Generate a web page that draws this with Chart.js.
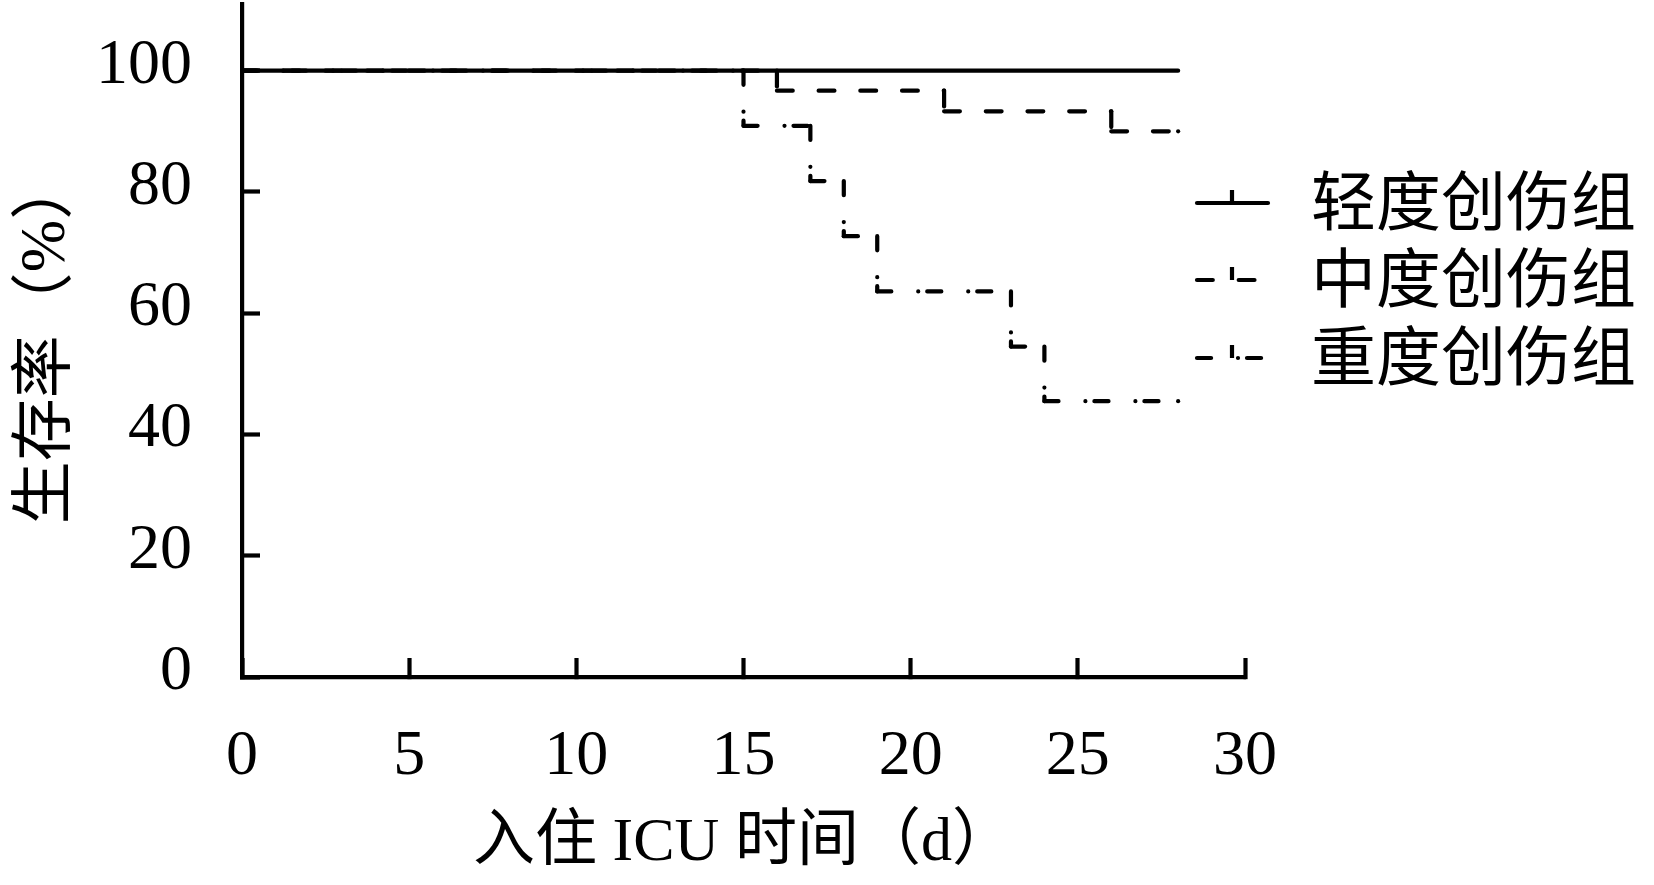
<!DOCTYPE html>
<html lang="zh-CN">
<head>
<meta charset="utf-8">
<title>生存率</title>
<script src="https://cdn.jsdelivr.net/npm/chart.js@4"></script>
<style>
  html, body { margin: 0; padding: 0; background: #fff; }
  #wrap { width: 1654px; height: 885px; }
</style>
</head>
<body>
<div id="wrap"><canvas id="kmChart" width="1654" height="885"></canvas></div>
<script>
const groupLabels = ['轻度创伤组', '中度创伤组', '重度创伤组'];
const endDay = 28;
// event days (d) and survival (%) right after each event
const mildDays = [];
const mildSurvival = [];
const moderateDays = [16, 21, 26];
const moderateSurvival = [96.7, 93.3, 90.0];
const severeDays = [15, 17, 18, 19, 23, 24];
const severeSurvival = [90.9, 81.8, 72.7, 63.6, 54.5, 45.5];
const xTicks = [0, 5, 10, 15, 20, 25, 30];
const yTicks = [0, 20, 40, 60, 80, 100];

const serif = "'Liberation Serif', 'Times New Roman', 'Noto Sans CJK SC', serif";
const lineW = 4.2;
const dashMid = [15.8, 25.9];
const dashSevere = [14.1, 26.9, 0, 9];

// vertices of the Kaplan-Meier step curve
function stepPoints(days, surv) {
  const pts = [{ x: 0, y: 100 }];
  let last = 100;
  days.forEach((d, i) => {
    pts.push({ x: d, y: last });
    pts.push({ x: d, y: surv[i] });
    last = surv[i];
  });
  pts.push({ x: endDay, y: last });
  return pts;
}

function makeSet(label, days, surv, dash) {
  const period = dash.reduce((a, b) => a + b, 0);
  const pts = stepPoints(days, surv);
  return {
    label: label,
    data: pts,
    borderColor: '#000',
    backgroundColor: '#000',
    borderWidth: lineW,
    borderDash: dash,
    borderCapStyle: 'round',
    pointRadius: ctx => ctx.dataIndex === pts.length - 1 && dash.length ? 2.1 : 0,
    pointBorderWidth: 0,
    fill: false,
    tension: 0,
    // restart the dash pattern on every segment (offset is a whole number of periods)
    segment: dash.length ? { borderDashOffset: ctx => ctx.p0DataIndex * period } : undefined
  };
}

const kmLegend = {
  id: 'kmLegend',
  afterDraw(chart) {
    const ctx = chart.ctx;
    const rows = [203, 280, 358];
    chart.data.datasets.forEach((ds, i) => {
      const y = rows[i];
      ctx.save();
      ctx.strokeStyle = '#000';
      ctx.lineWidth = lineW;
      ctx.lineCap = 'round';
      ctx.setLineDash(ds.borderDash);
      ctx.beginPath();
      ctx.moveTo(1197, y);
      ctx.lineTo(1268, y);
      ctx.stroke();
      ctx.setLineDash([]);
      ctx.lineCap = 'butt';
      ctx.beginPath();
      ctx.moveTo(1232, y - 13);
      ctx.lineTo(1232, y);
      ctx.stroke();
      ctx.fillStyle = '#000';
      ctx.font = "65px 'Noto Sans CJK SC', sans-serif";
      ctx.textBaseline = 'middle';
      ctx.textAlign = 'left';
      ctx.fillText(ds.label, 1311, y - 3);
      ctx.restore();
    });
  }
};

new Chart(document.getElementById('kmChart'), {
  type: 'line',
  data: {
    datasets: [
      makeSet(groupLabels[0], mildDays, mildSurvival, []),
      makeSet(groupLabels[1], moderateDays, moderateSurvival, dashMid),
      makeSet(groupLabels[2], severeDays, severeSurvival, dashSevere)
    ]
  },
  options: {
    responsive: false,
    animation: false,
    layout: { padding: { left: 0, right: 409, top: 4, bottom: 0 } },
    plugins: { legend: { display: false }, tooltip: { enabled: false } },
    scales: {
      x: {
        type: 'linear',
        min: 0,
        max: 30,
        afterBuildTicks: s => { s.ticks = xTicks.map(v => ({ value: v })); },
        afterFit: s => { s.height = 208; s.paddingLeft = 0; s.paddingRight = 0; },
        border: { color: '#000', width: lineW },
        grid: { drawOnChartArea: false, tickLength: -19, tickWidth: lineW, tickColor: '#000' },
        ticks: { color: '#000', padding: 61, maxRotation: 0, autoSkip: false, font: { family: serif, size: 64 } },
        title: {
          display: true, text: '入住 ICU 时间（d）', color: '#000',
          font: { family: serif, size: 62 }, padding: { top: 0, bottom: 4 }
        }
      },
      y: {
        type: 'linear',
        min: 0,
        max: 111,
        afterBuildTicks: s => { s.ticks = yTicks.map(v => ({ value: v })); },
        afterFit: s => { s.width = 242; s.paddingTop = 0; s.paddingBottom = 0; },
        border: { color: '#000', width: lineW },
        grid: { drawOnChartArea: false, tickLength: -18, tickWidth: lineW, tickColor: '#000' },
        ticks: { color: '#000', padding: 68, labelOffset: -5, font: { family: serif, size: 64 } },
        title: {
          display: true, text: '生存率（%）', color: '#000',
          font: { family: serif, size: 63 }, padding: { top: 10, bottom: 0 }
        }
      }
    }
  },
  plugins: [kmLegend]
});
</script>
</body>
</html>
